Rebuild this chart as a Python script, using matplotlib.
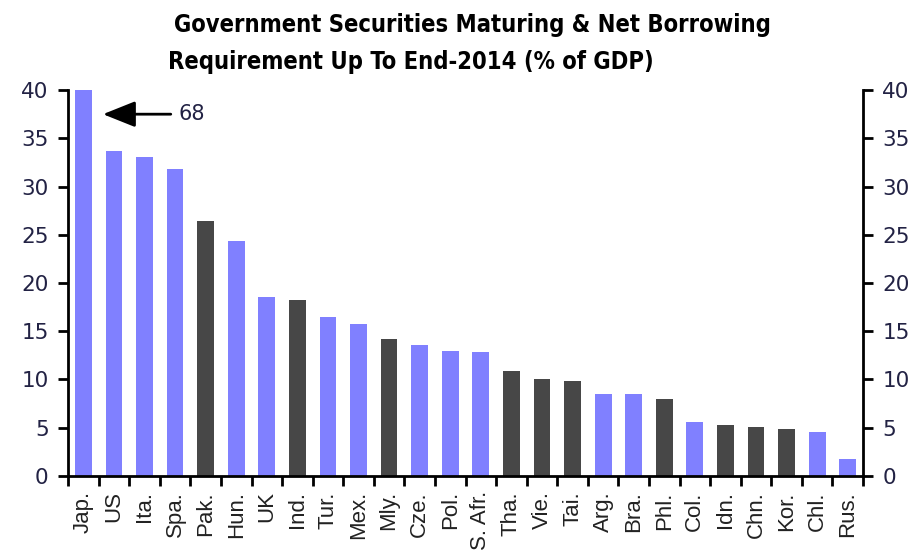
import matplotlib.pyplot as plt
import numpy as np

# data
countries = ["Jap.", "US", "Ita.", "Spa.", "Pak.", "Hun.", "UK", "Ind.", "Tur.", "Mex.",
             "Mly.", "Cze.", "Pol.", "S. Afr.", "Tha.", "Vie.", "Tai.", "Arg.", "Bra.", "Phl.",
             "Col.", "Idn.", "Chn.", "Kor.", "Chl.", "Rus."]
values = [68, 33.7, 33.1, 31.8, 26.4, 24.4, 18.6, 18.2, 16.5, 15.8,
          14.2, 13.6, 13.0, 12.8, 10.9, 10.0, 9.8, 8.5, 8.5, 8.0,
          5.6, 5.3, 5.1, 4.9, 4.6, 1.8]
# True = dark bars
dark = [False, False, False, False, True, False, False, True, False, False,
        True, False, False, False, True, True, True, False, False, True,
        False, True, True, True, False, False]

blue = "#8080ff"
grey = "#474747"
colors = [grey if d else blue for d in dark]

fig = plt.figure(figsize=(9.2, 5.56), dpi=100)
ax = fig.add_axes([0.074, 0.144, 0.864, 0.694])

x = np.arange(len(countries))
ax.bar(x, values, width=0.55, color=colors)

ax.set_xlim(-0.5, len(countries) - 0.5)
ax.set_ylim(0, 40)
ax.set_yticks(range(0, 41, 5))

# labels under bars, tick marks between bars
ax.set_xticks(x)
ax.set_xticklabels(countries, rotation=90, fontsize=16, color="#222222",
                   family="Liberation Sans")
ax.set_xticks(np.arange(-0.5, len(countries)), minor=True)
ax.tick_params(axis="x", which="major", length=0, pad=11)
ax.tick_params(axis="x", which="minor", length=7, width=2, direction="out")

ax.tick_params(axis="y", which="major", length=7, width=2, direction="out",
               left=True, right=True, labelleft=True, labelright=True,
               labelsize=15.5, labelcolor="#222244", pad=7)

for side in ["left", "right", "bottom"]:
    ax.spines[side].set_linewidth(2)
ax.spines["top"].set_visible(False)

# Japan is off the scale
ax.annotate("", xy=(0.55, 37.5), xytext=(2.95, 37.5),
            arrowprops=dict(arrowstyle="-|>,head_length=2.0,head_width=0.8",
                            color="black", lw=2))
ax.text(3.1, 37.5, str(values[0]), fontsize=15, va="center", ha="left", color="#222244")

fig.text(0.513, 0.955, "Government Securities Maturing & Net Borrowing",
         ha="center", va="center", fontsize=17, fontweight="bold",
         family="DejaVu Sans", fontstretch="condensed")
fig.text(0.447, 0.888, "Requirement Up To End-2014 (% of GDP)",
         ha="center", va="center", fontsize=17, fontweight="bold",
         family="DejaVu Sans", fontstretch="condensed")

fig.savefig("out.png", dpi=100)
